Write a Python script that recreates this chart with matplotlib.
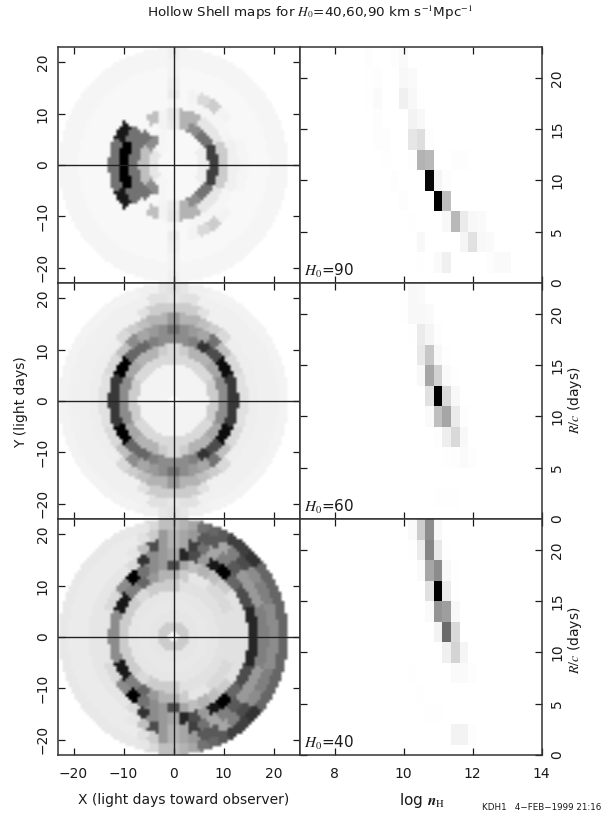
import numpy as np
import matplotlib
matplotlib.use('Agg')
import matplotlib.pyplot as plt

plt.rcParams['font.family'] = ['DejaVu Sans']
plt.rcParams['mathtext.fontset'] = 'stix'

W, H = 613, 816

# maps: darkness (percent) per ring R=2,4..22, one value per x bin from -R to +R (mirror in y)
rings = [2, 4, 6, 8, 10, 12, 14, 16, 18, 20, 22]
map_h90 = [
    [3, 3, 3],
    [10, 4, 3, 3, 3],
    [25, 45, 4, 3, 3, 3, 7],
    [55, 55, 3, 5, 8, 30, 45, 55, 75],
    [100, 55, 3, 25, 5, 10, 30, 30, 10, 10, 20],
    [55, 90, 3, 3, 3, 3, 4, 3, 4, 4, 4, 4, 6],
    [3, 3, 3, 3, 3, 3, 3, 8, 3, 5, 15, 20, 5, 3, 4],
    [3, 3, 3, 3, 3, 3, 3, 3, 6, 3, 3, 3, 3, 3, 3, 3, 3],
    [3, 3, 3, 3, 3, 3, 3, 3, 3, 5, 3, 3, 3, 3, 3, 3, 3, 3, 3],
    [4, 4, 4, 4, 4, 4, 4, 4, 4, 4, 5, 4, 4, 4, 4, 4, 4, 4, 4, 4, 4],
    [4, 4, 4, 4, 4, 4, 4, 4, 4, 4, 4, 6, 4, 4, 4, 4, 4, 4, 4, 4, 4, 4, 4],
]
map_h60 = [
    [5, 5, 5],
    [5, 5, 5, 5, 5],
    [5, 5, 5, 5, 5, 5, 5],
    [20, 15, 15, 15, 15, 15, 15, 15, 20],
    [45, 35, 30, 30, 20, 15, 20, 30, 30, 35, 45],
    [78, 100, 60, 60, 50, 45, 45, 45, 50, 80, 70, 95, 78],
    [12, 15, 25, 45, 35, 40, 45, 55, 45, 40, 35, 55, 25, 15, 12],
    [7, 7, 7, 15, 20, 25, 30, 30, 40, 30, 30, 25, 20, 15, 7, 7, 7],
    [6, 6, 6, 6, 6, 6, 12, 20, 20, 20, 20, 20, 12, 6, 6, 6, 6, 6, 6],
    [6, 6, 6, 6, 6, 6, 6, 6, 12, 12, 10, 12, 12, 6, 6, 6, 6, 6, 6, 6, 6],
    [5, 5, 5, 5, 5, 5, 5, 5, 6, 6, 10, 12, 10, 6, 6, 5, 5, 5, 5, 5, 5, 5, 5],
]
map_h40 = [
    [20, 20, 20],
    [10, 10, 10, 10, 10],
    [9, 9, 9, 9, 9, 9, 9],
    [10, 10, 10, 10, 10, 10, 10, 10, 10],
    [20, 20, 15, 20, 20, 20, 12, 12, 12, 12, 12],
    [45, 90, 50, 60, 40, 30, 30, 20, 10, 10, 15, 15, 12],
    [10, 15, 45, 100, 55, 45, 40, 70, 35, 25, 30, 25, 20, 12, 12],
    [10, 10, 10, 10, 15, 80, 45, 40, 35, 85, 70, 40, 90, 100, 60, 70, 85],
    [8, 8, 8, 8, 8, 10, 25, 70, 40, 30, 35, 75, 55, 35, 50, 65, 40, 40, 50],
    [8, 8, 8, 8, 8, 8, 8, 12, 20, 40, 30, 35, 40, 65, 65, 35, 50, 70, 45, 50, 45],
    [9, 9, 9, 9, 9, 9, 9, 9, 10, 15, 25, 25, 30, 35, 55, 60, 65, 75, 75, 80, 60, 60, 60],
]

# density panels: darkness (percent), rows R=2..22, columns log n = 9, 9.25 .. 13
logn = [9, 9.25, 9.5, 9.75, 10, 10.25, 10.5, 10.75, 11, 11.25, 11.5, 11.75, 12, 12.25, 12.5, 12.75, 13]
dens_h90 = [
    [0, 0, 0, 0, 0, 0, 0.5, 0, 2, 6, 0, 0, 0, 0, 1, 2, 2],
    [0, 0, 0, 0, 0, 0, 3, 0, 0, 0, 0, 4, 12, 3, 2, 0, 0],
    [0, 0, 0, 0, 0, 0.5, 0, 0, 0, 3, 28, 8, 3, 2, 0, 0, 0],
    [0, 0, 0, 0, 1, 0, 0, 0, 100, 25, 0, 0, 0, 0, 0, 0, 0],
    [0, 0, 0, 1, 0, 0, 0, 97, 4, 1, 0, 0, 0, 0, 0, 0, 0],
    [0, 0, 0.5, 0, 0, 1, 30, 28, 0, 0, 1, 1, 0, 0, 0, 0, 0],
    [0, 1, 1, 0, 0, 10, 13, 1, 0, 0, 0, 0, 0, 0, 0, 0, 0],
    [0, 1, 0, 0, 0, 5, 3, 0, 0, 0, 0, 0, 0, 0, 0, 0, 0],
    [0.5, 2, 0, 0, 6, 3, 0.5, 0, 0, 0, 0, 0, 0, 0, 0, 0, 0],
    [0.5, 1, 0, 0, 3, 2, 0, 0, 0, 0, 0, 0, 0, 0, 0, 0, 0],
    [1, 0, 0, 1, 2, 0, 0, 0, 0, 0, 0, 0, 0, 0, 0, 0, 0],
]
dens_h60 = [
    [0, 0, 0, 0, 0, 0, 0, 0, 0.5, 0.5, 0.5, 0, 0, 0, 0, 0, 0],
    [0, 0, 0, 0, 0, 0, 0, 0, 0, 0, 0, 0, 0, 0, 0, 0, 0],
    [0, 0, 0, 0, 0, 0, 0, 0, 0, 0.5, 1, 2, 1, 0, 0, 0, 0],
    [0, 0, 0, 0, 0, 0, 0, 0, 1, 7, 15, 3, 0, 0, 0, 0, 0],
    [0, 0, 0, 0, 0, 0, 0, 2, 25, 35, 8, 1, 0, 0, 0, 0, 0],
    [0, 0, 0, 0, 0, 0, 0, 12, 100, 15, 3, 0, 0, 0, 0, 0, 0],
    [0, 0, 0, 0, 0, 0, 3, 35, 18, 2, 0.5, 0, 0, 0, 0, 0, 0],
    [0, 0, 0, 0, 0, 0, 9, 22, 3, 0.5, 0, 0, 0, 0, 0, 0, 0],
    [0, 0, 0, 0, 0, 0.5, 8, 4, 1, 0, 0, 0, 0, 0, 0, 0, 0],
    [0, 0, 0, 0, 0.5, 3, 3, 2, 0, 0, 0, 0, 0, 0, 0, 0, 0],
    [0, 0, 0, 0, 0.5, 3, 2, 0, 0, 0, 0, 0, 0, 0, 0, 0, 0],
]
dens_h40 = [
    [0, 0, 0, 0, 0, 0, 0, 0, 0, 0, 5, 5, 1, 0, 0, 0, 0],
    [0, 0, 0, 0, 0, 0, 0, 0.5, 0.5, 0, 0, 0, 0, 0, 0, 0, 0],
    [0, 0, 0, 0, 0, 0, 0.5, 0, 0, 0, 0, 0, 0, 0, 0, 0, 0],
    [0, 0, 0, 0, 0, 0.5, 0, 0, 0, 0, 2, 2, 1, 0, 0, 0, 0],
    [0, 0, 0, 0, 0, 0, 0, 0, 0, 6, 17, 4, 0, 0, 0, 0, 0],
    [0, 0, 0, 0, 0, 0, 0, 0, 5, 58, 15, 0, 0, 0, 0, 0, 0],
    [0, 0, 0, 0, 0, 0, 0, 2, 42, 38, 3, 0, 0, 0, 0, 0, 0],
    [0, 0, 0, 0, 0, 0, 0, 12, 100, 8, 0.5, 0, 0, 0, 0, 0, 0],
    [0, 0, 0, 0, 0, 0, 2, 35, 45, 3, 0.5, 0, 0, 0, 0, 0, 0],
    [0, 0, 0, 0, 0, 0.5, 8, 48, 9, 0.5, 0, 0, 0, 0, 0, 0, 0],
    [0, 0, 0, 0, 0, 2, 20, 45, 3, 0, 0, 0, 0, 0, 0, 0, 0],
]
h0_labels = ['90', '60', '40']
xy_ticks = [-20, -10, 0, 10, 20]
r_ticks = [0, 5, 10, 15, 20]
n_ticks = [8, 10, 12, 14]

txt = '#1a1a1a'


def pos(x0, y0, x1, y1):
    return [x0 / W, 1 - y1 / H, (x1 - x0) / W, (y1 - y0) / H]


def raster(rows):
    # shell cells: radius bins and delay (x at ring centre) bins, on a coarse pixel grid
    step = 0.6
    cx = np.arange(-23.4, 25.5, step) + step / 2
    cy = np.arange(-23.1, 23.2, step) + step / 2
    xx, yy = np.meshgrid(cx, cy)
    rr = np.hypot(xx, yy)
    img = np.zeros(xx.shape)
    for j in range(xx.shape[0]):
        for i in range(xx.shape[1]):
            if rr[j, i] < 1 or rr[j, i] > 23:
                continue
            k = int(np.clip(round(rr[j, i] / 2) - 1, 0, 10))
            R = rings[k]
            b = int(np.clip(round(xx[j, i] * R / rr[j, i] / 2) * 2, -R, R))
            img[j, i] = rows[k][(b + R) // 2] / 100
    return img, [cx[0] - step / 2, cx[-1] + step / 2, cy[0] - step / 2, cy[-1] + step / 2]


def frame(ax):
    ax.tick_params(direction='in', top=True, right=True, length=4.8, width=0.9, labelsize=10,
                   colors=txt, pad=6)
    ax.tick_params(axis='x', pad=8.5)
    for s in ax.spines.values():
        s.set_linewidth(1.1)
        s.set_color('#333333')


fig = plt.figure(figsize=(W / 100, H / 100), dpi=100)
tops = [47, 283, 519]
maps = [map_h90, map_h60, map_h40]
dens = [dens_h90, dens_h60, dens_h40]

for n in range(3):
    y0, y1 = tops[n], tops[n] + 236
    # left: shell map
    ax = fig.add_axes(pos(58, y0, 300, y1))
    img, ext = raster(maps[n])
    ax.imshow(img, cmap='gray_r', vmin=0, vmax=1, origin='lower', extent=ext, aspect='auto',
              interpolation='bilinear')
    ax.axhline(0, color='#222222', lw=1.0)
    ax.axvline(0, color='#222222', lw=1.0)
    ax.set_xlim(-23.1, 25.3)
    ax.set_ylim(-23.0, 23.0)
    ax.set_xticks(xy_ticks)
    ax.set_yticks(xy_ticks)
    frame(ax)
    ax.tick_params(axis='y', labelrotation=90)
    for t in ax.get_yticklabels():
        t.set_va('center')
    ax.tick_params(axis='x', labelbottom=(n == 2))

    # right: density vs radius
    ax2 = fig.add_axes(pos(300, y0, 541.7, y1))
    xe = np.r_[np.array(logn) - 0.125, logn[-1] + 0.125]
    ye = np.r_[np.array(rings) - 1, rings[-1] + 1]
    ax2.pcolormesh(xe, ye, np.array(dens[n]) / 100, cmap='gray_r', vmin=0, vmax=1)
    ax2.set_xlim(7, 14)
    ax2.set_ylim(0, 23)
    ax2.set_xticks(n_ticks)
    ax2.set_yticks(r_ticks)
    frame(ax2)
    ax2.tick_params(axis='y', labelleft=False, labelright=True, labelrotation=90)
    for t in ax2.get_yticklabels():
        t.set_va('center')
    ax2.tick_params(axis='x', labelbottom=(n == 2))
    ax2.text(304 / W, 1 - (y1 - 7) / H, '$H_0$=' + h0_labels[n], transform=fig.transFigure,
             fontsize=11, color=txt, va='baseline')

fig.text(310 / W, 1 - 13 / H, r'Hollow Shell maps for $H_0$=40,60,90 km s$^{-1}$Mpc$^{-1}$',
         ha='center', va='center', fontsize=9.7, color=txt)
fig.text(183.5 / W, 1 - 800 / H, 'X (light days toward observer)', ha='center', va='center',
         fontsize=10, color=txt)
fig.text(21.5 / W, 1 - 402 / H, 'Y (light days)', rotation=90, ha='center', va='center',
         fontsize=10, color=txt)
fig.text(422 / W, 1 - 801 / H, r'log $\boldsymbol{n}_{\mathrm{H}}$', ha='center', va='center',
         fontsize=11, color=txt)
for yc in [400, 640]:
    fig.text(575 / W, 1 - yc / H, r'$R/c$ (days)', rotation=90, ha='center',
             va='center', fontsize=10, color=txt)
fig.text(482 / W, 1 - 807 / H, 'KDH1   4\u2212FEB\u22121999 21:16', ha='left', va='center',
         fontsize=6.3, color=txt)

fig.savefig('out.png', dpi=100)
